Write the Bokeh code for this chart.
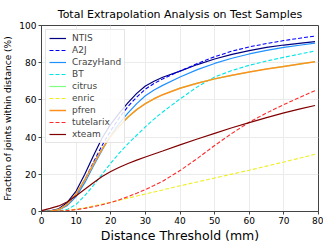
from bokeh.plotting import figure
from bokeh.models import ColumnDataSource, Legend, LegendItem, FixedTicker, Range1d
from bokeh.embed import file_html
from bokeh.resources import INLINE

x = [0, 2.5, 5, 7.5, 10, 12.5, 15, 17.5, 20, 22.5, 25, 27.5, 30, 32.5, 35, 40, 45, 50, 55, 60, 65, 70, 75, 79]

ntis = [0, 0.3, 1.5, 5, 11, 20, 30, 39.5, 47, 53, 58.5, 63.5, 67.5, 70, 72.2, 75.5, 79, 82, 84.5, 86.5, 88.2, 89.5, 90.5, 91.3]
a2j = [0, 0.2, 1, 3.8, 8.8, 17, 26.5, 35.5, 43.5, 50.5, 56.5, 61.5, 65.8, 68.8, 71.3, 75.5, 79.5, 83.2, 86.2, 88.5, 90.3, 91.9, 93.3, 94.3]
crazyhand = [0, 0.1, 0.8, 3.3, 8, 15.5, 24.5, 33, 41, 47.5, 53, 58, 62.2, 65.3, 67.8, 72.3, 76.3, 79.6, 82.4, 84.7, 86.6, 88.2, 89.5, 90.5]
bt = [0, 0, 0.3, 1.2, 3.8, 8.5, 14, 20, 26, 31.5, 36.5, 41, 45.5, 49.7, 53.5, 60.5, 67, 72.3, 75.8, 78.6, 80.9, 82.9, 84.8, 86.3]
citrus = [0, 0.2, 1, 4, 9.5, 17, 25.5, 33.5, 40.5, 46, 50.8, 54.8, 58, 60.6, 62.8, 66.3, 69, 71.3, 73.2, 75, 76.6, 78, 79.4, 80.5]
enric = [0, 0, 0.2, 0.6, 1.2, 2, 3, 4, 5, 6, 7.2, 8.3, 9.4, 10.5, 11.6, 13.8, 15.9, 18, 20.1, 22.2, 24.4, 26.6, 28.9, 30.8]
pfren = [0, 0.2, 1, 4, 9.5, 17, 25.5, 33.5, 40.5, 46, 50.8, 54.8, 58, 60.6, 62.8, 66.3, 69, 71.3, 73.2, 75, 76.6, 78, 79.4, 80.5]
tutelarix = [0, 0, 0.2, 0.5, 1, 1.7, 2.6, 3.6, 4.8, 6.3, 8, 9.8, 11.8, 14, 16.3, 22, 28.5, 35.5, 42, 48, 53, 57.5, 61.7, 65]
xteam = [0.5, 1.7, 3, 5.2, 8.5, 12, 15.5, 18.8, 21.5, 23.8, 25.8, 27.6, 29.3, 30.9, 32.5, 35.8, 39, 42, 45, 47.8, 50.5, 53, 55.3, 57]

names = ["NTIS", "A2J", "CrazyHand", "BT", "citrus", "enric", "pfren", "tutelarix", "xteam"]
series = [ntis, a2j, crazyhand, bt, citrus, enric, pfren, tutelarix, xteam]
colors = ["#000080", "#0000ff", "#1e90ff", "#00e5e5", "#7fff7f", "#eeee20", "#ff9020", "#ff2a2a", "#800000"]
dashes = ["solid", "4 2", "solid", "4 2", "solid", "4 2", "solid", "4 2", "solid"]
widths = [1.2, 1.1, 1.2, 1.1, 1.2, 1.1, 1.5, 1.1, 1.2]

xticks = [0, 10, 20, 30, 40, 50, 60, 70, 80]
yticks = [0, 20, 40, 60, 80, 100]

p = figure(frame_width=277, frame_height=186, output_backend="svg", toolbar_location=None,
           x_range=Range1d(0, 80), y_range=Range1d(0, 100),
           min_border_left=2, min_border_right=5, min_border_top=2, min_border_bottom=1)

p.title.text = "Total Extrapolation Analysis on Test Samples"
p.title.align = "center"
p.title.text_font = "DejaVu Sans"
p.title.text_font_size = "11px"
p.title.text_font_style = "normal"
p.title.text_color = "#000000"

p.outline_line_color = "#444444"
p.outline_line_width = 1
p.background_fill_color = "white"

for ax in (p.xaxis[0], p.yaxis[0]):
    ax.major_label_text_font = "DejaVu Sans"
    ax.major_label_text_font_size = "9px"
    ax.major_label_text_color = "#000000"
    ax.axis_line_color = "#444444"
    ax.major_tick_line_color = "#444444"
    ax.major_tick_out = 3
    ax.major_tick_in = 0
    ax.minor_tick_line_color = None
    ax.axis_label_text_font = "DejaVu Sans"
    ax.axis_label_text_font_style = "normal"
    ax.axis_label_text_color = "#000000"
    ax.major_label_standoff = 2

p.xaxis[0].ticker = FixedTicker(ticks=xticks)
p.yaxis[0].ticker = FixedTicker(ticks=yticks)
p.xaxis[0].axis_label = "Distance Threshold (mm)"
p.xaxis[0].axis_label_text_font_size = "12.5px"
p.xaxis[0].axis_label_standoff = 1
p.yaxis[0].axis_label = "Fraction of joints within distance (%)"
p.yaxis[0].axis_label_text_font_size = "9px"
p.yaxis[0].axis_label_standoff = 3

p.xgrid[0].ticker = FixedTicker(ticks=xticks)
p.ygrid[0].ticker = FixedTicker(ticks=yticks)
p.xgrid.grid_line_color = "#ebebeb"
p.ygrid.grid_line_color = "#ebebeb"

items = []
for name, ys, c, d, w in zip(names, series, colors, dashes, widths):
    src = ColumnDataSource(dict(x=x, y=ys))
    r = p.line("x", "y", source=src, line_color=c, line_dash=d, line_width=w)
    items.append(LegendItem(label=name, renderers=[r]))

legend = Legend(items=items, location="top_left")
legend.label_text_font = "DejaVu Sans"
legend.label_text_font_size = "9px"
legend.label_height = 10
legend.glyph_height = 10
legend.glyph_width = 17
legend.label_standoff = 6
legend.spacing = 2
legend.padding = 3
legend.margin = 4
legend.border_line_color = "#cccccc"
legend.border_line_width = 1
legend.background_fill_alpha = 0.85
p.add_layout(legend)

open("out.html", "w").write(file_html(p, INLINE))
